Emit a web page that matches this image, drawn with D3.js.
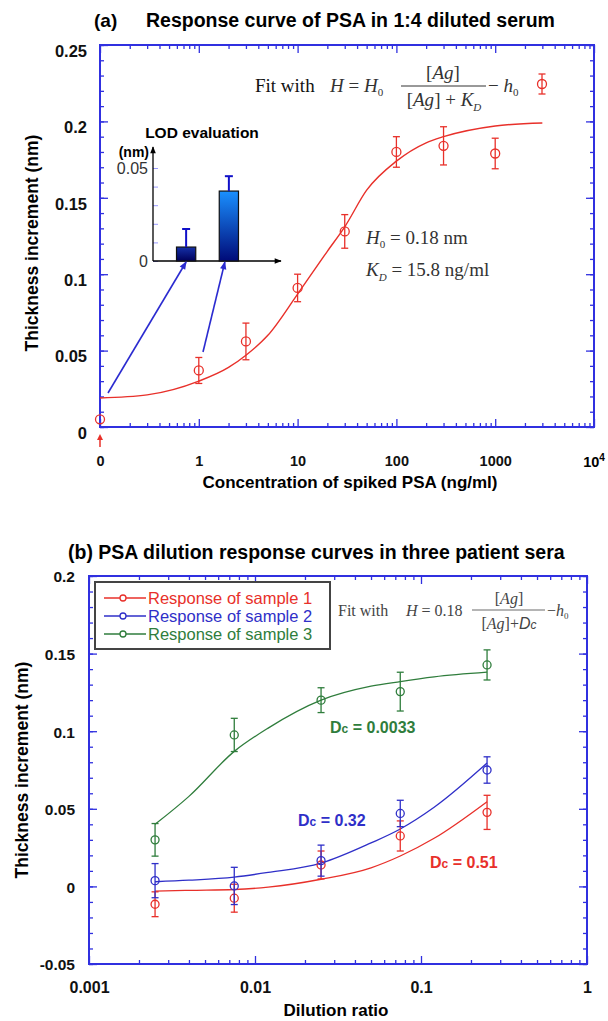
<!DOCTYPE html>
<html lang="en">
<head>
<meta charset="UTF-8">
<title>PSA response curves</title>
<style>
  body { margin: 0; padding: 0; background: #fff; }
  svg { display: block; }
  .tick text { font-family: "Liberation Sans", Arial, sans-serif; font-weight: bold; fill: #111; }
  .bold { font-family: "Liberation Sans", Arial, sans-serif; font-weight: bold; }
  .serif { font-family: "Liberation Serif", "Times New Roman", serif; fill: #333; }
</style>
</head>
<body>
<svg id="chart" width="608" height="1021"></svg>
<script src="https://d3js.org/d3.v7.min.js"></script>
<script>
// ---- panel (a) data: response to spiked PSA (0 is drawn at the 0.1 position)
const concA   = [0, 1, 3, 10, 30, 100, 300, 1000];
const thickA  = [0.005, 0.037, 0.056, 0.091, 0.128, 0.180, 0.184, 0.179];
const errA    = [0, 0.0085, 0.012, 0.009, 0.011, 0.010, 0.0125, 0.010];
const fitAx   = [0.1, 0.3, 1, 2, 3, 5, 10, 20, 30, 50, 100, 200, 300, 1000, 3000];
const fitAy   = [0.019, 0.021, 0.030, 0.039, 0.047, 0.060, 0.087, 0.115, 0.131, 0.155, 0.174, 0.186, 0.190, 0.197, 0.199];
const concTicks = [0.1, 1, 10, 100, 1000, 10000];
const concTickLabels = ["0", "1", "10", "100", "1000", "10^4"];
const thickTicksA = [0, 0.05, 0.1, 0.15, 0.2, 0.25];

// ---- inset: LOD evaluation
const lodBars = ["0 ng/ml", "1 ng/ml"];
const lodValues = [0.0075, 0.0376];
const lodErr = [0.0097, 0.008];

// ---- panel (b) data: dilution response of three sera
const dilution = [0.0025, 0.0075, 0.025, 0.075, 0.25];
const sample1 = [-0.0115, -0.0076, 0.0138, 0.0325, 0.0477];
const sample1Err = [0.008, 0.009, 0.009, 0.0097, 0.011];
const sample2 = [0.0037, 0.0003, 0.0166, 0.047, 0.075];
const sample2Err = [0.011, 0.012, 0.010, 0.0085, 0.0085];
const sample3 = [0.030, 0.0976, 0.120, 0.1255, 0.1427];
const sample3Err = [0.0105, 0.0107, 0.008, 0.0125, 0.0097];
const fitBx = [0.0025, 0.004, 0.0075, 0.012, 0.025, 0.05, 0.075, 0.12, 0.25];
const fit1 = [-0.003, -0.0025, -0.002, -0.0005, 0.0046, 0.012, 0.0196, 0.031, 0.0546];
const fit2 = [0.003, 0.004, 0.006, 0.009, 0.015, 0.028, 0.037, 0.051, 0.0795];
const fit3 = [0.040, 0.058, 0.087, 0.102, 0.120, 0.129, 0.132, 0.135, 0.138];
const sampleNames = ["Response of sample 1", "Response of sample 2", "Response of sample 3"];
const dcLabels = ["Dc = 0.51", "Dc = 0.32", "Dc = 0.0033"];
const dilTicks = [0.001, 0.01, 0.1, 1];
const thickTicksB = [-0.05, 0, 0.05, 0.1, 0.15, 0.2];

const AXIS = "#3030e0";
const RED = "#e8302a", BLUE = "#2f2fc8", GREEN = "#2f7d3c";

const svg = d3.select("#chart");
const defs = svg.append("defs");

function minorTicks(lo, hi) {
  const out = [];
  for (let d = lo; d < hi; d *= 10)
    for (let m = 2; m <= 9; m++) out.push(d * m);
  return out;
}

// draws a framed log-x / linear-y plot with inward ticks on all four sides
function frame(g, x, y, majorX, majorY, minorY, opt) {
  const [x0, x1] = x.range(), [y0, y1] = y.range();
  const minorX = minorTicks(majorX[0], majorX[majorX.length - 1]);
  const sides = [
    [d3.axisBottom(x), y0, true],
    [d3.axisTop(x), y1, false]
  ];
  sides.forEach(([ax, pos, lab]) => {
    g.append("g").attr("transform", `translate(0,${pos})`)
      .call(ax.tickValues(minorX).tickSize(-4).tickFormat(""));
    const a = g.append("g").attr("transform", `translate(0,${pos})`)
      .call(ax.tickValues(majorX).tickSize(-8).tickPadding(opt.xPad).tickFormat(lab ? opt.xFormat : ""));
    a.selectAll("text").style("font-size", opt.xFont + "px");
  });
  [[d3.axisLeft(y), x0, true], [d3.axisRight(y), x1, false]].forEach(([ax, pos, lab]) => {
    g.append("g").attr("transform", `translate(${pos},0)`)
      .call(ax.tickValues(minorY).tickSize(-4).tickFormat(""));
    const a = g.append("g").attr("transform", `translate(${pos},0)`)
      .call(ax.tickValues(majorY).tickSize(-8).tickPadding(opt.yPad).tickFormat(lab ? opt.yFormat : ""));
    a.selectAll("text").style("font-size", opt.yFont + "px").attr("y", opt.yShift);
  });
  g.selectAll(".domain").remove();
  g.selectAll(".tick line").attr("stroke", AXIS).attr("stroke-width", 1.3);
  g.append("rect").attr("x", x0).attr("y", y1).attr("width", x1 - x0).attr("height", y0 - y1)
    .attr("fill", "none").attr("stroke", AXIS).attr("stroke-width", 2);
}

function points(g, xs, ys, errs, xf, y, color, r) {
  xs.forEach((v, i) => {
    const cx = xf(v), cy = y(ys[i]);
    if (errs[i] > 0) {
      const t = y(ys[i] + errs[i]), b = y(ys[i] - errs[i]);
      g.append("line").attr("x1", cx).attr("x2", cx).attr("y1", t).attr("y2", b)
        .attr("stroke", color).attr("stroke-width", 1.3);
      [t, b].forEach(yy => g.append("line").attr("x1", cx - 3.5).attr("x2", cx + 3.5)
        .attr("y1", yy).attr("y2", yy).attr("stroke", color).attr("stroke-width", 1.3));
    }
    g.append("circle").attr("cx", cx).attr("cy", cy).attr("r", r)
      .attr("fill", "none").attr("stroke", color).attr("stroke-width", 1.3);
  });
}

// ================= panel (a) =================
const xA = d3.scaleLog().domain([0.1, 1e4]).range([100, 594]);
const yA = d3.scaleLinear().domain([0, 0.25]).range([427, 45]);
const posA = d => xA(d === 0 ? 0.1 : d);
const gA = svg.append("g");

svg.append("text").attr("class", "bold").attr("x", 94).attr("y", 27)
  .style("font-size", "19px").text("(a)");
svg.append("text").attr("class", "bold").attr("x", 146).attr("y", 27)
  .style("font-size", "19.5px").text("Response curve of PSA in 1:4 diluted serum");

frame(gA, xA, yA, concTicks, thickTicksA, d3.range(0, 0.2501, 0.01), {
  xPad: 29, xFont: 14.5, yPad: 13, yFont: 16.5, yShift: 6,
  xFormat: d => concTickLabels[concTicks.indexOf(d)] === "10^4" ? "" : concTickLabels[concTicks.indexOf(d)],
  yFormat: d => d === 0 ? "0" : String(d)
});
// superscript label for 10^4
const t4 = gA.append("text").attr("class", "bold").attr("x", xA(1e4)).attr("y", 467)
  .attr("text-anchor", "middle").style("font-size", "14.5px");
t4.append("tspan").text("10");
t4.append("tspan").attr("dy", -6).style("font-size", "10px").text("4");

gA.append("text").attr("class", "bold").attr("x", 350).attr("y", 488).attr("text-anchor", "middle")
  .style("font-size", "17px").text("Concentration of spiked PSA (ng/ml)");
gA.append("text").attr("class", "bold").attr("transform", "translate(38,243) rotate(-90)")
  .attr("text-anchor", "middle").style("font-size", "17.5px").text("Thickness increment (nm)");

// red arrow under the zero point
gA.append("line").attr("x1", xA(0.1)).attr("x2", xA(0.1)).attr("y1", 447).attr("y2", 439)
  .attr("stroke", RED).attr("stroke-width", 1.5);
gA.append("path").attr("d", `M${xA(0.1) - 3},440 L${xA(0.1)},434 L${xA(0.1) + 3},440 Z`).attr("fill", RED);

// fit curve
gA.append("path").datum(fitAx.map((v, i) => [v, fitAy[i]]))
  .attr("d", d3.line().x(d => xA(d[0])).y(d => yA(d[1])).curve(d3.curveMonotoneX))
  .attr("fill", "none").attr("stroke", RED).attr("stroke-width", 1.4);
points(gA, concA, thickA, errA, posA, yA, RED, 4.5);

// fit formula with legend symbol
const fa = gA.append("g").attr("class", "serif").style("font-size", "19px");
fa.append("text").attr("x", 255).attr("y", 92).style("fill", "#111").text("Fit with");
const eqA = fa.append("text").attr("x", 330).attr("y", 92).style("font-style", "italic");
eqA.append("tspan").text("H");
eqA.append("tspan").style("font-style", "normal").text(" = ");
eqA.append("tspan").text("H");
eqA.append("tspan").attr("dy", 4).style("font-size", "11px").style("font-style", "normal").text("0");
fa.append("text").attr("x", 443).attr("y", 79).attr("text-anchor", "middle").html('[<tspan font-style="italic">Ag</tspan>]');
fa.append("line").attr("x1", 401).attr("x2", 486).attr("y1", 86).attr("y2", 86).attr("stroke", "#333").attr("stroke-width", 1);
const den = fa.append("text").attr("x", 444).attr("y", 106).attr("text-anchor", "middle");
den.html('[<tspan font-style="italic">Ag</tspan>] + <tspan font-style="italic">K</tspan><tspan dy="5" font-size="11px" font-style="italic">D</tspan>');
const h0 = fa.append("text").attr("x", 488).attr("y", 92);
h0.append("tspan").text("\u2212 ");
h0.append("tspan").style("font-style", "italic").text("h");
h0.append("tspan").attr("dy", 4).style("font-size", "11px").text("0");
points(gA, [0], [yA.invert(84)], [yA.invert(74) - yA.invert(84)], () => 542, yA, RED, 4.5);

// parameters
const p1 = gA.append("text").attr("class", "serif").attr("x", 366).attr("y", 244).style("font-size", "19px");
p1.append("tspan").style("font-style", "italic").text("H");
p1.append("tspan").attr("dy", 4).style("font-size", "11px").text("0");
p1.append("tspan").attr("dy", -4).text(" = 0.18 nm");
const p2 = gA.append("text").attr("class", "serif").attr("x", 366).attr("y", 276).style("font-size", "19px");
p2.append("tspan").style("font-style", "italic").text("K");
p2.append("tspan").attr("dy", 5).style("font-size", "11px").style("font-style", "italic").text("D");
p2.append("tspan").attr("dy", -5).text(" = 15.8 ng/ml");

// ---- inset: LOD evaluation
const ix = d3.scaleBand().domain(lodBars).range([153, 262]).paddingInner(0.55).paddingOuter(0.55);
const iy = d3.scaleLinear().domain([0, 0.05]).range([261, 168]);
const gi = svg.append("g");
const g1 = defs.append("linearGradient").attr("id", "bar0").attr("x1", 0).attr("x2", 0).attr("y1", 0).attr("y2", 1);
g1.append("stop").attr("offset", 0).attr("stop-color", "#1530a8");
g1.append("stop").attr("offset", 1).attr("stop-color", "#00005a");
const g2 = defs.append("linearGradient").attr("id", "bar1").attr("x1", 0).attr("x2", 0).attr("y1", 0).attr("y2", 1);
g2.append("stop").attr("offset", 0).attr("stop-color", "#1a90ff");
g2.append("stop").attr("offset", 1).attr("stop-color", "#000a78");
const mk = defs.append("marker").attr("id", "arrK").attr("viewBox", "0 0 10 10").attr("refX", 9).attr("refY", 5)
  .attr("markerWidth", 9).attr("markerHeight", 7).attr("orient", "auto").attr("markerUnits", "userSpaceOnUse");
mk.append("path").attr("d", "M0,1 L10,5 L0,9 Z").attr("fill", "#000");
const mb = defs.append("marker").attr("id", "arrB").attr("viewBox", "0 0 10 10").attr("refX", 9).attr("refY", 5)
  .attr("markerWidth", 9).attr("markerHeight", 8).attr("orient", "auto").attr("markerUnits", "userSpaceOnUse");
mb.append("path").attr("d", "M0,1 L10,5 L0,9 Z").attr("fill", "#2b2bd0");

gi.append("g").attr("transform", "translate(153,0)")
  .call(d3.axisRight(iy).tickValues(d3.range(0, 0.0501, 0.01)).tickSize(5).tickFormat(""))
  .call(a => a.select(".domain").remove())
  .selectAll("line").attr("stroke", "#9a9aff");
gi.append("line").attr("x1", 153).attr("x2", 153).attr("y1", 261).attr("y2", 147)
  .attr("stroke", "#000").attr("stroke-width", 1.3).attr("marker-end", "url(#arrK)");
gi.append("line").attr("x1", 153).attr("x2", 281).attr("y1", 261).attr("y2", 261)
  .attr("stroke", "#000").attr("stroke-width", 1.3).attr("marker-end", "url(#arrK)");
gi.selectAll("rect.bar").data(lodBars).enter().append("rect").attr("class", "bar")
  .attr("x", d => ix(d)).attr("width", ix.bandwidth())
  .attr("y", (d, i) => iy(lodValues[i])).attr("height", (d, i) => iy(0) - iy(lodValues[i]))
  .attr("fill", (d, i) => `url(#bar${i})`).attr("stroke", "#111").attr("stroke-width", 1.2);
lodBars.forEach((d, i) => {
  const cx = ix(d) + ix.bandwidth() / 2;
  gi.append("line").attr("x1", cx).attr("x2", cx).attr("y1", iy(lodValues[i])).attr("y2", iy(lodValues[i] + lodErr[i]))
    .attr("stroke", "#1010c8").attr("stroke-width", 2);
  gi.append("line").attr("x1", cx - 4).attr("x2", cx + 4).attr("y1", iy(lodValues[i] + lodErr[i])).attr("y2", iy(lodValues[i] + lodErr[i]))
    .attr("stroke", "#1010c8").attr("stroke-width", 2);
});
gi.append("text").attr("class", "bold").attr("x", 202).attr("y", 138).attr("text-anchor", "middle")
  .style("font-size", "15.5px").text("LOD evaluation");
gi.append("text").attr("class", "bold").attr("x", 149).attr("y", 157).attr("text-anchor", "end")
  .style("font-size", "14px").text("(nm)");
gi.append("text").attr("x", 148).attr("y", iy(0.05) + 6).attr("text-anchor", "end")
  .style("font-family", "Liberation Sans, Arial, sans-serif").style("font-size", "16px").style("fill", "#333").text("0.05");
gi.append("text").attr("x", 148).attr("y", iy(0) + 6).attr("text-anchor", "end")
  .style("font-family", "Liberation Sans, Arial, sans-serif").style("font-size", "16px").style("fill", "#333").text("0");
// arrows from data points to the bars
[[posA(0) + 8, 393, 0], [203, 352, 1]].forEach(([sx, sy, i]) => {
  gi.append("line").attr("x1", sx).attr("y1", sy)
    .attr("x2", ix(lodBars[i]) + ix.bandwidth() / 2 + (i ? -4 : 0)).attr("y2", 262)
    .attr("stroke", "#2b2bd0").attr("stroke-width", 1.6).attr("marker-end", "url(#arrB)");
});

// ================= panel (b) =================
const xB = d3.scaleLog().domain([0.001, 1]).range([89, 587]);
const yB = d3.scaleLinear().domain([-0.05, 0.2]).range([964, 576]);
const gB = svg.append("g");

svg.append("text").attr("class", "bold").attr("x", 68).attr("y", 559)
  .style("font-size", "19.5px").text("(b)  PSA dilution response curves in three patient sera");

frame(gB, xB, yB, dilTicks, thickTicksB, d3.range(-0.05, 0.2001, 0.01), {
  xPad: 18, xFont: 16, yPad: 14, yFont: 15.5, yShift: 1,
  xFormat: d => String(d),
  yFormat: d => Math.abs(d) < 1e-9 ? "0" : String(+d.toFixed(2))
});
gB.append("text").attr("class", "bold").attr("x", 336).attr("y", 1016).attr("text-anchor", "middle")
  .style("font-size", "17px").text("Dilution ratio");
gB.append("text").attr("class", "bold").attr("transform", "translate(28,770) rotate(-90)")
  .attr("text-anchor", "middle").style("font-size", "17.5px").text("Thickness increment (nm)");

const colorsB = [RED, BLUE, GREEN];
[fit1, fit2, fit3].forEach((f, k) => {
  gB.append("path").datum(fitBx.map((v, i) => [v, f[i]]))
    .attr("d", d3.line().x(d => xB(d[0])).y(d => yB(d[1])).curve(d3.curveMonotoneX))
    .attr("fill", "none").attr("stroke", colorsB[k]).attr("stroke-width", 1.3);
});
[[sample1, sample1Err], [sample2, sample2Err], [sample3, sample3Err]].forEach(([s, e], k) =>
  points(gB, dilution, s, e, xB, yB, colorsB[k], 4));

// legend
const lg = gB.append("g");
lg.append("rect").attr("x", 95).attr("y", 582).attr("width", 235).attr("height", 67)
  .attr("fill", "#fff").attr("stroke", "#444").attr("stroke-width", 2);
sampleNames.forEach((n, i) => {
  const yy = 598 + i * 18;
  lg.append("line").attr("x1", 104).attr("x2", 146).attr("y1", yy).attr("y2", yy)
    .attr("stroke", colorsB[i]).attr("stroke-width", 1.3);
  lg.append("circle").attr("cx", 123).attr("cy", yy).attr("r", 3).attr("fill", "#fff")
    .attr("stroke", colorsB[i]).attr("stroke-width", 1.3);
  lg.append("text").attr("x", 148).attr("y", yy + 6).style("font-family", "Liberation Sans, Arial, sans-serif")
    .style("font-size", "16.5px").style("fill", colorsB[i]).text(n);
});

// formula (b)
const fb = gB.append("g").attr("class", "serif").style("font-size", "16px").style("fill", "#444");
fb.append("text").attr("x", 338).attr("y", 616).text("Fit with");
const eqB = fb.append("text").attr("x", 406).attr("y", 616);
eqB.append("tspan").style("font-style", "italic").text("H");
eqB.append("tspan").text(" = 0.18");
fb.append("text").attr("x", 509).attr("y", 604).attr("text-anchor", "middle").html('[<tspan font-style="italic">Ag</tspan>]');
fb.append("line").attr("x1", 472).attr("x2", 545).attr("y1", 610).attr("y2", 610).attr("stroke", "#444").attr("stroke-width", 0.8);
fb.append("text").attr("x", 509).attr("y", 629).attr("text-anchor", "middle")
  .html('[<tspan font-style="italic">Ag</tspan>]+<tspan font-family="Liberation Sans, Arial, sans-serif" font-style="italic">D</tspan><tspan font-family="Liberation Sans, Arial, sans-serif" font-style="italic" font-size="12px">c</tspan>');
const h0b = fb.append("text").attr("x", 547).attr("y", 616);
h0b.append("tspan").text("\u2212");
h0b.append("tspan").style("font-style", "italic").text("h");
h0b.append("tspan").attr("dy", 3).style("font-size", "9px").text("0");

// Dc labels
[[430, 868], [298, 826], [330, 733]].forEach(([lx, ly], k) => {
  const t = gB.append("text").attr("class", "bold").attr("x", lx).attr("y", ly)
    .style("font-size", "16px").style("fill", colorsB[k]);
  t.append("tspan").text("D");
  t.append("tspan").style("font-size", "12px").text("c");
  t.append("tspan").text(dcLabels[k].slice(2));
});
</script>
</body>
</html>
